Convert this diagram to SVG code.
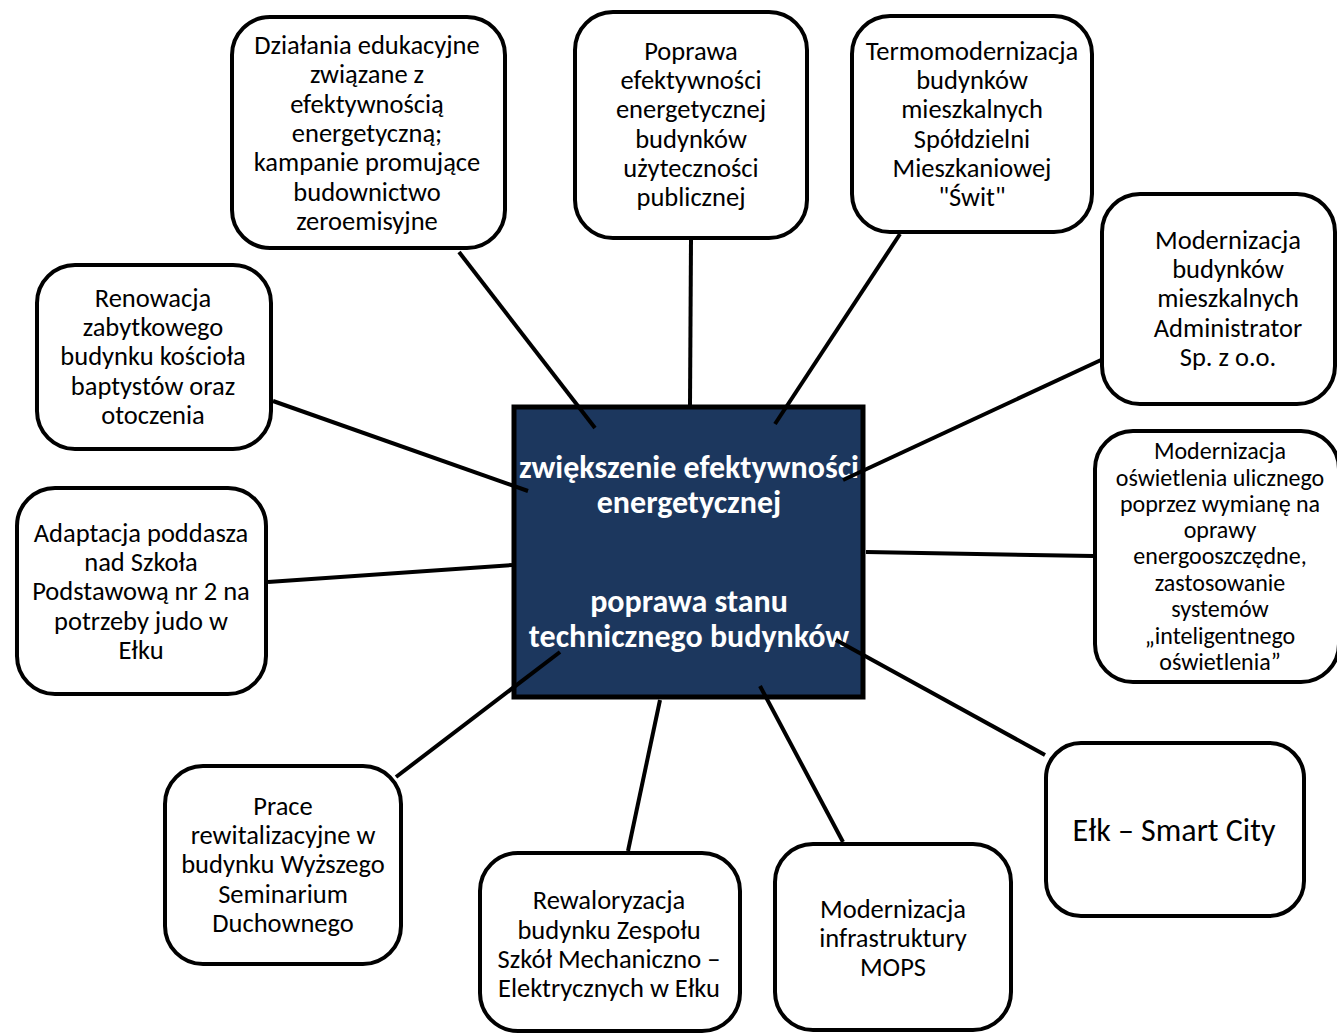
<svg xmlns="http://www.w3.org/2000/svg" width="1337" height="1034" viewBox="0 0 1337 1034">
<style>
.box{fill:#fff;stroke:#000;stroke-width:4}
.t{font-family:Carlito,Lato,"Liberation Sans",sans-serif;font-size:26.5px;fill:#000;text-anchor:middle}
.s{font-size:24px}
.c{font-family:Carlito,Lato,"Liberation Sans",sans-serif;font-size:32px;font-weight:bold;fill:#fff;text-anchor:middle}
.ln{stroke:#000;stroke-width:4;fill:none}
</style>
<rect width="1337" height="1034" fill="#fff"/>
<g id="center">
<rect x="514" y="407" width="349" height="290" fill="#1c375e" stroke="#000" stroke-width="5"/>
<text class="c" x="689" y="478">zwiększenie efektywności</text>
<text class="c" x="689" y="513">energetycznej</text>
<text class="c" x="689" y="612">poprawa stanu</text>
<text class="c" x="689" y="647">technicznego budynków</text>
</g>
<g id="connectors">
<line class="ln" x1="459" y1="252" x2="595" y2="428"/>
<line class="ln" x1="691" y1="240" x2="690" y2="405"/>
<line class="ln" x1="900" y1="234" x2="775" y2="424"/>
<line class="ln" x1="1101" y1="360" x2="843" y2="480"/>
<line class="ln" x1="1093" y1="556" x2="866" y2="552"/>
<line class="ln" x1="1045" y1="755" x2="836" y2="640"/>
<line class="ln" x1="843" y1="842" x2="760" y2="686"/>
<line class="ln" x1="628" y1="851" x2="660" y2="700"/>
<line class="ln" x1="396" y1="777" x2="560" y2="652"/>
<line class="ln" x1="268" y1="582" x2="512" y2="565"/>
<line class="ln" x1="273" y1="401" x2="528" y2="491"/>
</g>
<g id="n1">
<rect class="box" x="232" y="17" width="273" height="231" rx="38"/>
<text class="t" x="367" y="54">Działania edukacyjne</text>
<text class="t" x="367" y="83">związane z</text>
<text class="t" x="367" y="113">efektywnością</text>
<text class="t" x="367" y="142">energetyczną;</text>
<text class="t" x="367" y="171">kampanie promujące</text>
<text class="t" x="367" y="201">budownictwo</text>
<text class="t" x="367" y="230">zeroemisyjne</text>
</g>
<g id="n2">
<rect class="box" x="575" y="12" width="232" height="226" rx="38"/>
<text class="t" x="691" y="60">Poprawa</text>
<text class="t" x="691" y="89">efektywności</text>
<text class="t" x="691" y="118">energetycznej</text>
<text class="t" x="691" y="148">budynków</text>
<text class="t" x="691" y="177">użyteczności</text>
<text class="t" x="691" y="206">publicznej</text>
</g>
<g id="n3">
<rect class="box" x="852" y="16" width="240" height="216" rx="38"/>
<text class="t" x="972" y="60">Termomodernizacja</text>
<text class="t" x="972" y="89">budynków</text>
<text class="t" x="972" y="118">mieszkalnych</text>
<text class="t" x="972" y="148">Spółdzielni</text>
<text class="t" x="972" y="177">Mieszkaniowej</text>
<text class="t" x="972" y="206">"Świt"</text>
</g>
<g id="n4">
<rect class="box" x="1102" y="194" width="233" height="210" rx="38"/>
<text class="t" x="1228" y="249">Modernizacja</text>
<text class="t" x="1228" y="278">budynków</text>
<text class="t" x="1228" y="307">mieszkalnych</text>
<text class="t" x="1228" y="337">Administrator</text>
<text class="t" x="1228" y="366">Sp. z o.o.</text>
</g>
<g id="n5">
<rect class="box" x="1095" y="431" width="244" height="251" rx="38"/>
<text class="t s" x="1220" y="459">Modernizacja</text>
<text class="t s" x="1220" y="486">oświetlenia ulicznego</text>
<text class="t s" x="1220" y="512">poprzez wymianę na</text>
<text class="t s" x="1220" y="538">oprawy</text>
<text class="t s" x="1220" y="564">energooszczędne,</text>
<text class="t s" x="1220" y="591">zastosowanie</text>
<text class="t s" x="1220" y="617">systemów</text>
<text class="t s" x="1220" y="644">„inteligentnego</text>
<text class="t s" x="1220" y="670">oświetlenia”</text>
</g>
<g id="n6">
<rect class="box" x="1046" y="743" width="258" height="173" rx="35"/>
<text class="t" style="font-size:32px" x="1174" y="841">Ełk – Smart City</text>
</g>
<g id="n7">
<rect class="box" x="775" y="844" width="236" height="186" rx="38"/>
<text class="t" x="893" y="918">Modernizacja</text>
<text class="t" x="893" y="947">infrastruktury</text>
<text class="t" x="893" y="976">MOPS</text>
</g>
<g id="n8">
<rect class="box" x="480" y="853" width="260" height="178" rx="38"/>
<text class="t" x="609" y="909">Rewaloryzacja</text>
<text class="t" x="609" y="939">budynku Zespołu</text>
<text class="t" x="609" y="968">Szkół Mechaniczno –</text>
<text class="t" x="609" y="997">Elektrycznych w Ełku</text>
</g>
<g id="n9">
<rect class="box" x="165" y="766" width="236" height="198" rx="38"/>
<text class="t" x="283" y="815">Prace</text>
<text class="t" x="283" y="844">rewitalizacyjne w</text>
<text class="t" x="283" y="873">budynku Wyższego</text>
<text class="t" x="283" y="903">Seminarium</text>
<text class="t" x="283" y="932">Duchownego</text>
</g>
<g id="n10">
<rect class="box" x="17" y="488" width="249" height="206" rx="38"/>
<text class="t" x="141" y="542">Adaptacja poddasza</text>
<text class="t" x="141" y="571">nad Szkoła</text>
<text class="t" x="141" y="600">Podstawową nr 2 na</text>
<text class="t" x="141" y="630">potrzeby judo w</text>
<text class="t" x="141" y="659">Ełku</text>
</g>
<g id="n11">
<rect class="box" x="37" y="265" width="234" height="184" rx="38"/>
<text class="t" x="153" y="307">Renowacja</text>
<text class="t" x="153" y="336">zabytkowego</text>
<text class="t" x="153" y="365">budynku kościoła</text>
<text class="t" x="153" y="395">baptystów oraz</text>
<text class="t" x="153" y="424">otoczenia</text>
</g>
</svg>
